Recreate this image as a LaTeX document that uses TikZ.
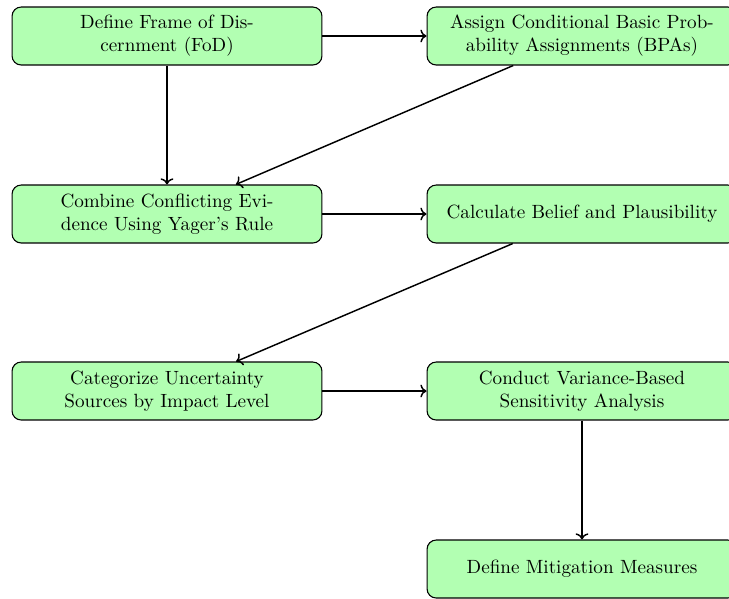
\documentclass[tikz,border=0pt]{standalone}
\usetikzlibrary{arrows.meta}
\begin{document}
\begin{tikzpicture}[x=0.5486pt,y=-0.5486pt,
  stepbox/.style={draw=black, semithick, fill=green!30, rounded corners=5pt,
    minimum width=170pt, minimum height=31.8pt, align=center, inner sep=3pt,
    font=\fontsize{10.5}{12.6}\selectfont},
  conn/.style={thick,->}]
\useasboundingbox (0,0) rectangle (729,598);
\node[stepbox] (A) at (167,36) {Define Frame of Dis-\\cernment (FoD)};
\node[stepbox] (B) at (582,36) {Assign Conditional Basic Prob-\\ability Assignments (BPAs)};
\node[stepbox] (C) at (167,214) {Combine Conflicting Evi-\\dence Using Yager's Rule};
\node[stepbox] (D) at (582,214) {Calculate Belief and Plausibility};
\node[stepbox] (E) at (167,391) {Categorize Uncertainty\\Sources by Impact Level};
\node[stepbox] (F) at (582,391) {Conduct Variance-Based\\Sensitivity Analysis};
\node[stepbox] (G) at (582,569) {Define Mitigation Measures};
\draw[conn] (A) -- (B);
\draw[conn] (A) -- (C);
\draw[conn] (B) -- (C);
\draw[conn] (C) -- (D);
\draw[conn] (D) -- (E);
\draw[conn] (E) -- (F);
\draw[conn] (F) -- (G);
\end{tikzpicture}
\end{document}
